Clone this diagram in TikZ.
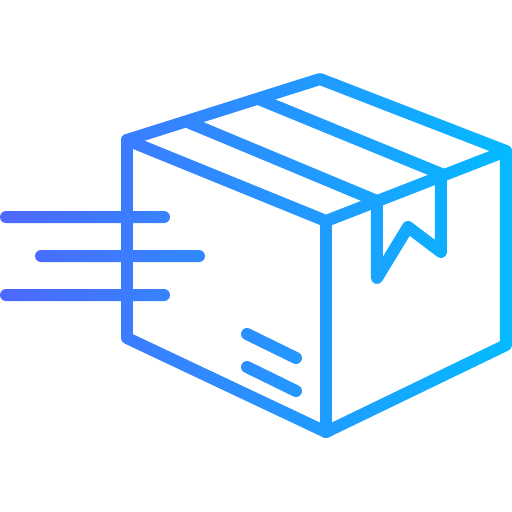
\documentclass[tikz,border=0pt]{standalone}
\usetikzlibrary{fadings}
\definecolor{boxindigo}{RGB}{78,104,255}
\definecolor{boxcyan}{RGB}{4,186,255}
\tikzset{
    boxline/.style={line width=0.24cm, line cap=round, line join=round},
    pxgrid/.style={x=0.02cm, y=-0.02cm}
}

% Outline of the parcel, used as a mask for the gradient
\begin{tikzfadingfrompicture}[name=parcelfade, pxgrid]
\useasboundingbox (0,0) rectangle (512,512);
\begin{scope}[boxline, draw=transparent!0]
% Box
\draw (127,140) -- (320,79) -- (506,151) -- (506,345) -- (326,432) -- (127,338) -- cycle;
\draw (127,140) -- (326,221) -- (506,151);
\draw (326,221) -- (326,432);
% Tape
\draw (190,123) -- (377,201);
\draw (261,100) -- (444,175);
% Ribbon
\draw (377,201) -- (377,278) -- (408,227) -- (441,252) -- (441,175);
% Label lines
\draw (247,334) -- (296,358);
\draw (247,367) -- (296,391);
% Speed lines
\draw (6,217) -- (164,217);
\draw (41,256) -- (199,256);
\draw (6,295) -- (164,295);
\end{scope}
\end{tikzfadingfrompicture}

\begin{document}
\begin{tikzpicture}[pxgrid]

\useasboundingbox (0,0) rectangle (512,512);
\fill[white] (0,0) rectangle (512,512);

\shade[left color=boxindigo, right color=boxcyan, path fading=parcelfade, fit fading=false,
    fading transform={shift={(256,256)}}]
    (0,0) rectangle (512,512);

\end{tikzpicture}
\end{document}
